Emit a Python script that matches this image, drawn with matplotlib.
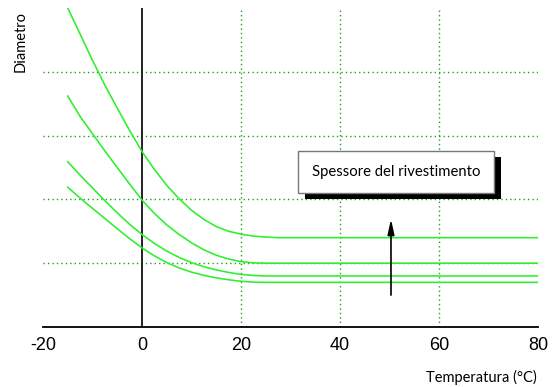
import matplotlib
matplotlib.use("Agg")
import matplotlib.pyplot as plt
import matplotlib.patheffects as pe

# Temperature grid (°C) shared by all curves
temperature = [-15, -12.5, -10, -7.5, -5, -2.5, 0, 2.5, 5, 7.5, 10, 12.5,
               15, 17.5, 20, 22.5, 25, 27.5, 80]

# Diameter curves, one per coating thickness (arbitrary units)
diam_1 = [5.00, 4.59, 4.18, 3.79, 3.43, 3.08, 2.75, 2.47, 2.22, 2.01, 1.83,
          1.685, 1.575, 1.50, 1.455, 1.425, 1.41, 1.40, 1.40]
diam_2 = [3.62, 3.30, 3.03, 2.76, 2.50, 2.24, 1.99, 1.78, 1.60, 1.45, 1.32,
          1.21, 1.125, 1.065, 1.025, 1.005, 1.00, 1.00, 1.00]
diam_3 = [2.59, 2.38, 2.18, 1.98, 1.79, 1.61, 1.45, 1.31, 1.19, 1.09, 1.01,
          0.945, 0.895, 0.855, 0.825, 0.808, 0.80, 0.80, 0.80]
diam_4 = [2.19, 2.02, 1.86, 1.70, 1.54, 1.385, 1.24, 1.115, 1.01, 0.925, 0.86,
          0.81, 0.77, 0.74, 0.717, 0.703, 0.70, 0.70, 0.70]
curves = [diam_1, diam_2, diam_3, diam_4]

x_ticks = [-20, 0, 20, 40, 60, 80]
x_grid = [20, 40, 60]
y_grid = [1, 2, 3, 4]
x_range = (-20, 80)
y_range = (0, 5)

label_font = ["Lato", "DejaVu Sans"]

fig = plt.figure(figsize=(5.52, 3.87), dpi=100)
ax = fig.add_axes([43 / 552, 60 / 387, 495 / 552, 319 / 387])
ax.set_xlim(*x_range)
ax.set_ylim(*y_range)

grid_style = dict(color="#1fa31f", lw=1.0, linestyle=(0, (1, 2.2)), zorder=1)
for gy in y_grid:
    ax.plot(x_range, [gy, gy], **grid_style)
for gx in x_grid:
    ax.plot([gx, gx], y_range, **grid_style)

# zero-degree reference line and temperature axis
ax.plot([0, 0], y_range, color="#222222", lw=1.4, zorder=2)
ax.plot(x_range, [0, 0], color="black", lw=1.3, zorder=2, clip_on=False)

for d in curves:
    ax.plot(temperature, d, color="#2bf02b", lw=1.15, zorder=3,
            solid_joinstyle="round")

for s in ax.spines.values():
    s.set_visible(False)
ax.set_yticks([])
ax.set_xticks(x_ticks)
ax.set_xticklabels([str(t) for t in x_ticks], family="Liberation Sans", fontsize=13)
ax.tick_params(axis="x", length=0, pad=7)

# arrow pointing towards increasing coating thickness
ax.annotate("", xy=(50.3, 1.69), xytext=(50.3, 0.5),
            arrowprops=dict(arrowstyle="-|>,head_length=0.9,head_width=0.2",
                            color="black", lw=1.2, shrinkA=0, shrinkB=0),
            zorder=4)

t = ax.text(51.3, 2.43, "Spessore del rivestimento", ha="center", va="center",
            family=label_font, fontsize=10.7, zorder=5,
            bbox=dict(boxstyle="square,pad=0.95", fc="white", ec="#777777", lw=1.0))
t.get_bbox_patch().set_path_effects([
    pe.SimplePatchShadow(offset=(5, -4.5), shadow_rgbFace="black", alpha=1.0),
    pe.Normal(),
])

fig.text(537 / 552, 5 / 387, "Temperatura (°C)", ha="right", va="baseline",
         family=label_font, fontsize=10.5)
fig.text(21 / 552, 1 - 41 / 387, "Diametro", ha="center", va="center",
         rotation=90, family=label_font, fontsize=10.5)

fig.savefig("out.png", dpi=100)
